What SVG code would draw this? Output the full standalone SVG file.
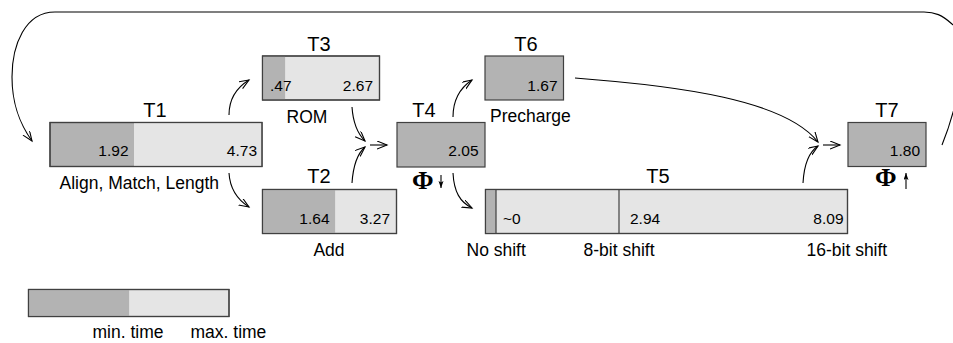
<svg xmlns="http://www.w3.org/2000/svg" width="953" height="343" viewBox="0 0 953 343">
<defs>
<style>
.box{stroke:#404040;stroke-width:1.2;}
.dk{fill:#b3b3b3;}
.lt{fill:#e5e5e5;}
.ttl{font-family:"Liberation Sans",Arial,sans-serif;font-size:20px;fill:#000;text-anchor:middle;}
.num{font-family:"Liberation Sans",Arial,sans-serif;font-size:15.5px;fill:#000;}
.lbl{font-family:"Liberation Sans",Arial,sans-serif;font-size:17.5px;fill:#000;}
.phi{font-family:"Liberation Serif","Times New Roman",serif;font-size:26px;font-weight:bold;fill:#000;}
.con{fill:none;stroke:#000;stroke-width:1.1;}
</style>
<marker id="ah" markerUnits="userSpaceOnUse" markerWidth="12" markerHeight="10" refX="10" refY="4" orient="auto">
<path d="M0,0 L10,4 L0,8" fill="none" stroke="#000" stroke-width="1.1"/>
</marker>
<marker id="sm" markerUnits="userSpaceOnUse" markerWidth="9" markerHeight="8" refX="7" refY="2.5" orient="auto">
<path d="M0,0 L7,2.5 L0,5 L1.5,2.5 Z" fill="#000"/>
</marker>
</defs>
<rect width="953" height="343" fill="#fff"/>

<g id="connectors">
<path class="con" d="M942,145 C958,105 972,40 952,24 C942,15 935,12 924,12 L55,12 C25,12 12,45 12,77 C12,105 20,124 32,141" marker-end="url(#ah)"/>
<path class="con" d="M229,115 C229,100 236,88 249,80" marker-end="url(#ah)"/>
<path class="con" d="M229,173 C230,190 238,200 249,207" marker-end="url(#ah)"/>
<path class="con" d="M352,107 C353,122 357,133 365,141" marker-end="url(#ah)"/>
<path class="con" d="M352,183 C353,168 357,154 365,147" marker-end="url(#ah)"/>
<path class="con" d="M370,145 L387,145" marker-end="url(#ah)"/>
<path class="con" d="M453,117 C453,100 460,88 472,80" marker-end="url(#ah)"/>
<path class="con" d="M453,173 C454,192 460,202 472,208" marker-end="url(#ah)"/>
<path class="con" d="M575,78 C680,86 785,100 818,142" marker-end="url(#ah)"/>
<path class="con" d="M803,183 C804,165 809,152 818,146" marker-end="url(#ah)"/>
<path class="con" d="M823,145 L840,145" marker-end="url(#ah)"/>
</g>

<g id="T1">
<rect class="box dk" x="50" y="122.5" width="212" height="44"/>
<rect class="lt" x="134" y="123.1" width="127.4" height="42.8"/>
<rect class="box" x="50" y="122.5" width="212" height="44" fill="none"/>
<text class="ttl" x="155" y="117">T1</text>
<text class="num" x="128.5" y="156" text-anchor="end">1.92</text>
<text class="num" x="257" y="156" text-anchor="end">4.73</text>
<text class="lbl" x="59.5" y="189">Align, Match, Length</text>
</g>

<g id="T3">
<rect class="box lt" x="262.5" y="56" width="117" height="44"/>
<rect class="dk" x="263.1" y="56.6" width="22" height="42.8"/>
<rect class="box" x="262.5" y="56" width="117" height="44" fill="none"/>
<text class="ttl" x="319" y="51">T3</text>
<text class="num" x="270" y="91">.47</text>
<text class="num" x="373" y="91" text-anchor="end">2.67</text>
<text class="lbl" x="307" y="123" text-anchor="middle">ROM</text>
</g>

<g id="T2">
<rect class="box lt" x="262.5" y="189.5" width="134" height="44"/>
<rect class="dk" x="263.1" y="190.1" width="72" height="42.8"/>
<rect class="box" x="262.5" y="189.5" width="134" height="44" fill="none"/>
<text class="ttl" x="319" y="183">T2</text>
<text class="num" x="329.5" y="224" text-anchor="end">1.64</text>
<text class="num" x="390" y="224" text-anchor="end">3.27</text>
<text class="lbl" x="329" y="256" text-anchor="middle">Add</text>
</g>

<g id="T4">
<rect class="box dk" x="397" y="122.5" width="88" height="44.5"/>
<text class="ttl" x="424" y="117">T4</text>
<text class="num" x="478.5" y="155.5" text-anchor="end">2.05</text>
<text class="phi" x="412" y="189">Φ</text>
<path class="con" d="M441,175 L441,188" stroke-width="1" marker-end="url(#sm)"/>
</g>

<g id="T6">
<rect class="box dk" x="485" y="56" width="78.5" height="44"/>
<text class="ttl" x="526" y="51">T6</text>
<text class="num" x="557.5" y="91" text-anchor="end">1.67</text>
<text class="lbl" x="490" y="122">Precharge</text>
</g>

<g id="T5">
<rect class="box lt" x="485.5" y="189.5" width="362" height="44"/>
<rect class="dk" x="486.1" y="190.1" width="10" height="42.8"/>
<line class="box" x1="496" y1="189.5" x2="496" y2="233.5"/>
<line class="box" x1="619" y1="189.5" x2="619" y2="233.5"/>
<rect class="box" x="485.5" y="189.5" width="362" height="44" fill="none"/>
<text class="ttl" x="658" y="183">T5</text>
<text class="num" x="503" y="224">~0</text>
<text class="num" x="630" y="224">2.94</text>
<text class="num" x="843.5" y="224" text-anchor="end">8.09</text>
<text class="lbl" x="466.5" y="256">No shift</text>
<text class="lbl" x="583.5" y="256">8-bit shift</text>
<text class="lbl" x="806.5" y="256">16-bit shift</text>
</g>

<g id="T7">
<rect class="box dk" x="848" y="122.5" width="78" height="44"/>
<text class="ttl" x="887" y="117">T7</text>
<text class="num" x="920" y="156" text-anchor="end">1.80</text>
<text class="phi" x="875" y="186">Φ</text>
<path class="con" d="M906,189 L906,173" stroke-width="1" marker-end="url(#sm)"/>
</g>

<g id="legend">
<rect class="box lt" x="28.5" y="289.5" width="200.5" height="27"/>
<rect class="dk" x="29.1" y="290.1" width="100" height="25.8"/>
<rect class="box" x="28.5" y="289.5" width="200.5" height="27" fill="none"/>
<text class="lbl" x="92.5" y="338">min. time</text>
<text class="lbl" x="190.5" y="338">max. time</text>
</g>
</svg>
